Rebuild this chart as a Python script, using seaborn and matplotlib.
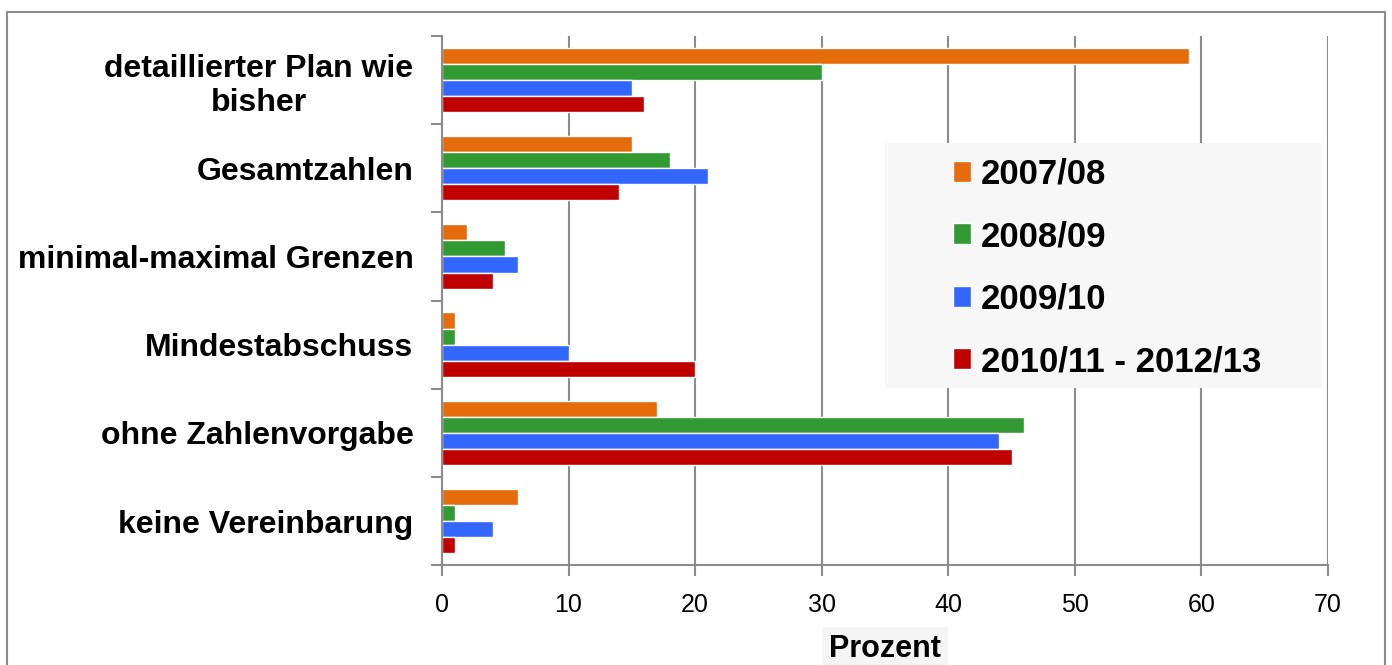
import pandas as pd
import matplotlib.pyplot as plt
import seaborn as sns
from matplotlib.patches import Rectangle

categories = ["detaillierter Plan wie\nbisher", "Gesamtzahlen", "minimal-maximal Grenzen",
              "Mindestabschuss", "ohne Zahlenvorgabe", "keine Vereinbarung"]
seasons = ["2007/08", "2008/09", "2009/10", "2010/11 - 2012/13"]
v_2007 = [59, 15, 2, 1, 17, 6]
v_2008 = [30, 18, 5, 1, 46, 1]
v_2009 = [15, 21, 6, 10, 44, 4]
v_2010 = [16, 14, 4, 20, 45, 1]
colors = ["#E46C0A", "#339933", "#3366FF", "#C00000"]

rows = []
for season, vals in zip(seasons, [v_2007, v_2008, v_2009, v_2010]):
    for cat, v in zip(categories, vals):
        rows.append({"Kategorie": cat, "Saison": season, "Prozent": v})
df = pd.DataFrame(rows)

sns.set_style("white")
plt.rcParams["font.family"] = ["Liberation Sans", "DejaVu Sans"]
plt.rcParams["text.color"] = "black"
plt.rcParams["xtick.color"] = "black"
plt.rcParams["ytick.color"] = "black"

fig = plt.figure(figsize=(13.92, 6.65), dpi=100)
ax = fig.add_axes([0.3175, 0.150, 0.6365, 0.796])

sns.barplot(data=df, y="Kategorie", x="Prozent", hue="Saison", order=categories,
            hue_order=seasons, palette=colors, orient="h", width=0.73,
            saturation=1, ax=ax, legend=True)

ax.set_xlim(0, 70)
ax.set_ylim(5.5, -0.5)
ax.set_xticks(range(0, 71, 10))
ax.xaxis.grid(True, color="#8c8c8c", linewidth=1.5)
ax.set_axisbelow(True)
for s in ["top", "right"]:
    ax.spines[s].set_visible(False)
for s in ["left", "bottom"]:
    ax.spines[s].set_color("#8c8c8c")
    ax.spines[s].set_linewidth(1.5)

ax.tick_params(axis="x", bottom=True, length=8, width=1.5, color="#8c8c8c",
               labelcolor="black", labelsize=18, pad=12)
ax.tick_params(axis="y", which="major", left=False, pad=17, labelsize=23,
               labelcolor="black")
ax.set_yticks([i - 0.5 for i in range(7)], minor=True)
ax.tick_params(axis="y", which="minor", left=True, length=8, width=1.5, color="#8c8c8c")
for lbl in ax.get_yticklabels():
    lbl.set_fontweight("bold")
    lbl.set_multialignment("center")

ax.set_ylabel("")
ax.set_xlabel("Prozent", fontsize=22, fontweight="bold", labelpad=12, color="black",
              bbox=dict(facecolor="#f5f5f5", edgecolor="none", pad=5))

# legend background box, covering the grid lines
ax.add_patch(Rectangle((0.5, 0.335), 0.493, 0.463, transform=ax.transAxes,
                       facecolor="#f7f7f7", edgecolor="none", zorder=4))
handles, labels = ax.get_legend_handles_labels()
leg = ax.legend(handles, labels, loc="center left", bbox_to_anchor=(0.577, 0.562),
                frameon=False, handlelength=0.5, handleheight=0.55, handletextpad=0.3,
                labelspacing=0.85, borderpad=0, borderaxespad=0,
                prop={"weight": "bold", "size": 25})
leg.set_zorder(6)

fig.patches.append(Rectangle((0.005, -0.1), 0.99, 1.082, transform=fig.transFigure,
                             fill=False, edgecolor="#8c8c8c", linewidth=1.5))

fig.savefig("out.png", dpi=100)
